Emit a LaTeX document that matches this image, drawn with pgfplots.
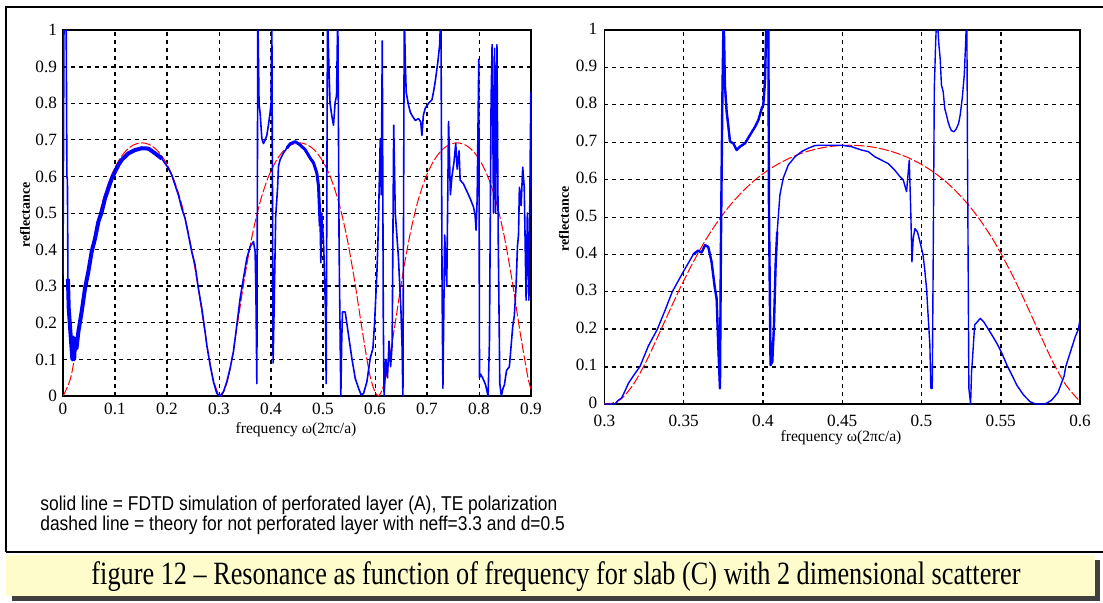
\documentclass[border=0pt]{standalone}
\usepackage{pgfplots}
\pgfplotsset{compat=1.18}
\usepackage{pgfplotstable}
\usepackage{fontspec}
\setmainfont{Liberation Serif}
\newfontfamily\sansf{Liberation Sans}

\pgfplotstableread{
x y
0.0000 0.33
0.0020 1.05
0.0060 1.05
0.0075 0.60
0.0085 0.59
0.0095 0.32
0.0110 0.24
0.0135 0.19
0.0160 0.14
0.0180 0.10
0.0200 0.16
0.0215 0.10
0.0230 0.15
0.0260 0.13
0.0295 0.175
0.0359 0.23
0.0423 0.294
0.0488 0.34
0.0552 0.395
0.0616 0.43
0.0680 0.476
0.0744 0.503
0.0808 0.54
0.0872 0.567
0.0937 0.594
0.1001 0.613
0.1065 0.631
0.1129 0.645
0.1257 0.663
0.1386 0.672
0.1514 0.677
0.1642 0.676
0.1771 0.663
0.1899 0.649
0.2027 0.622
0.2091 0.604
0.2156 0.576
0.2220 0.549
0.2284 0.513
0.2348 0.485
0.2412 0.440
0.2476 0.394
0.2540 0.358
0.2604 0.294
0.2669 0.240
0.2733 0.175
0.2765 0.139
0.2830 0.084
0.2893 0.039
0.2958 0.007
0.3022 0.0
0.3086 0.012
0.3150 0.039
0.3214 0.076
0.3278 0.121
0.3343 0.194
0.3407 0.267
0.3471 0.322
0.3535 0.376
0.3599 0.408
0.3663 0.422
0.3695 0.394
0.3710 0.285
0.3728 0.034
0.3747 1.05
0.3770 0.80
0.3792 0.771
0.3824 0.703
0.3856 0.690
0.3888 0.700
0.3920 0.712
0.3950 0.740
0.3984 0.776
0.4003 0.803
0.4016 1.05
0.4040 0.09
0.4060 0.24
0.4090 0.49
0.4125 0.565
0.4144 0.628
0.4176 0.646
0.4240 0.664
0.4304 0.677
0.4368 0.689
0.4465 0.695
0.4561 0.686
0.4657 0.673
0.4754 0.650
0.4818 0.637
0.4882 0.609
0.4914 0.573
0.4946 0.464
0.4959 0.364
0.4975 0.50
0.5011 0.421
0.5030 0.33
0.5048 0.23
0.5061 0.034
0.5087 1.05
0.5110 0.92
0.5135 0.80
0.5170 0.765
0.5202 0.740
0.5234 0.803
0.5260 0.82
0.5285 1.05
0.5310 0.40
0.5343 0.0
0.5360 0.15
0.5375 0.23
0.5427 0.23
0.5491 0.166
0.5555 0.103
0.5620 0.048
0.5684 0.021
0.5735 0.003
0.5780 0.007
0.5844 0.039
0.5908 0.103
0.5960 0.13
0.5992 0.20
0.6037 0.337
0.6056 0.419
0.6070 0.50
0.6101 0.703
0.6120 0.55
0.6140 0.97
0.6160 0.20
0.6175 0.0
0.6210 0.10
0.6240 0.05
0.6270 0.15
0.6300 0.08
0.6330 0.14
0.6360 0.74
0.6390 0.50
0.6420 0.44
0.6450 0.38
0.6470 0.32
0.6500 0.23
0.6520 0.14
0.6537 0.0
0.6563 1.05
0.6582 0.92
0.6600 0.83
0.6646 0.794
0.6678 0.776
0.6710 0.767
0.6774 0.753
0.6838 0.758
0.6880 0.749
0.6902 0.712
0.6930 0.767
0.6966 0.786
0.7030 0.800
0.7095 0.809
0.7127 0.832
0.7159 0.860
0.7210 0.914
0.7242 0.958
0.7268 1.05
0.7290 0.30
0.7306 0.021
0.7340 0.44
0.7380 0.30
0.7415 0.75
0.7450 0.55
0.7480 0.60
0.7520 0.64
0.7553 0.69
0.7580 0.62
0.7617 0.67
0.7637 0.59
0.7700 0.58
0.7765 0.56
0.7829 0.54
0.7893 0.517
0.7925 0.494
0.7944 0.453
0.7965 0.54
0.7996 0.92
0.8010 0.05
0.8030 0.06
0.8072 0.049
0.8124 0.032
0.8175 0.0
0.8201 0.15
0.8233 0.81
0.8252 0.96
0.8280 0.50
0.8300 0.95
0.8320 0.50
0.8345 0.96
0.8370 0.43
0.8400 0.035
0.8430 0.0
0.8460 0.02
0.8488 0.03
0.8530 0.07
0.8584 0.08
0.8649 0.19
0.8680 0.22
0.8713 0.30
0.8740 0.41
0.8760 0.44
0.8777 0.57
0.8810 0.52
0.8841 0.625
0.8870 0.57
0.8906 0.262
0.8930 0.50
0.8960 0.262
0.8997 0.83
}\leftblue

\pgfplotstableread{
x y
0.0000 0.0
0.0152 0.0521
0.0303 0.1766
0.0455 0.3164
0.0606 0.4369
0.0758 0.5289
0.0909 0.5951
0.1061 0.6406
0.1212 0.6701
0.1364 0.6866
0.1515 0.6919
0.1667 0.6866
0.1818 0.6701
0.1970 0.6406
0.2121 0.5951
0.2273 0.5289
0.2424 0.4369
0.2576 0.3164
0.2727 0.1766
0.2879 0.0521
0.3030 0.0
0.3182 0.0521
0.3333 0.1766
0.3485 0.3164
0.3636 0.4369
0.3788 0.5289
0.3939 0.5951
0.4091 0.6406
0.4242 0.6701
0.4394 0.6866
0.4545 0.6919
0.4697 0.6866
0.4848 0.6701
0.5000 0.6406
0.5152 0.5951
0.5303 0.5289
0.5455 0.4369
0.5606 0.3164
0.5758 0.1766
0.5909 0.0521
0.6061 0.0
0.6212 0.0521
0.6364 0.1766
0.6515 0.3164
0.6667 0.4369
0.6818 0.5289
0.6970 0.5951
0.7121 0.6406
0.7273 0.6701
0.7424 0.6866
0.7576 0.6919
0.7727 0.6866
0.7879 0.6701
0.8030 0.6406
0.8182 0.5951
0.8333 0.5289
0.8485 0.4369
0.8636 0.3164
0.8788 0.1766
0.8939 0.0521
0.9000 0.0195
}\leftred

\pgfplotstableread{
x y
0.3000 0.0
0.3067 0.0
0.3088 0.010
0.3109 0.0164
0.3130 0.035
0.3151 0.055
0.3190 0.08
0.3224 0.10
0.3277 0.155
0.3334 0.20
0.3382 0.25
0.3428 0.30
0.3498 0.354
0.3561 0.40
0.3590 0.41
0.3613 0.405
0.3635 0.425
0.3655 0.42
0.3676 0.38
0.3697 0.309
0.3708 0.282
0.3718 0.158
0.3729 0.042
0.3735 0.425
0.3744 0.817
0.3752 1.05
0.3760 0.853
0.3771 0.782
0.3781 0.746
0.3792 0.702
0.3813 0.697
0.3834 0.679
0.3855 0.688
0.3887 0.697
0.3918 0.719
0.3950 0.741
0.3971 0.759
0.3992 0.790
0.4002 0.799
0.4013 0.862
0.4023 1.05
0.4034 1.05
0.4038 0.523
0.4048 0.104
0.4059 0.113
0.4069 0.202
0.4080 0.372
0.4090 0.461
0.4107 0.559
0.4128 0.604
0.4160 0.639
0.4202 0.661
0.4244 0.675
0.4286 0.684
0.4328 0.691
0.4359 0.692
0.4454 0.692
0.4496 0.692
0.4559 0.688
0.4622 0.679
0.4664 0.675
0.4706 0.661
0.4748 0.652
0.4790 0.643
0.4832 0.625
0.4864 0.608
0.4885 0.599
0.4906 0.568
0.4923 0.652
0.4932 0.523
0.4940 0.380
0.4948 0.443
0.4959 0.469
0.4975 0.46
0.4996 0.424
0.5010 0.398
0.5020 0.362
0.5032 0.309
0.5043 0.229
0.5053 0.158
0.5059 0.042
0.5068 0.042
0.5074 0.389
0.5081 0.844
0.5089 0.96
0.5097 1.05
0.5110 0.96
0.5118 0.924
0.5126 0.853
0.5137 0.835
0.5147 0.790
0.5158 0.772
0.5168 0.754
0.5179 0.740
0.5189 0.731
0.5205 0.728
0.5220 0.736
0.5234 0.750
0.5244 0.772
0.5257 0.817
0.5270 0.880
0.5278 0.96
0.5286 1.05
0.5290 0.70
0.5299 0.042
0.5310 0.0
0.5316 0.087
0.5322 0.122
0.5330 0.176
0.5336 0.212
0.5353 0.22
0.5371 0.229
0.5392 0.22
0.5413 0.206
0.5445 0.184
0.5476 0.162
0.5508 0.135
0.5539 0.104
0.5571 0.077
0.5602 0.050
0.5644 0.024
0.5686 0.006
0.5720 0.0
0.5780 0.0
0.5820 0.01
0.5860 0.03
0.5900 0.075
0.5910 0.10
0.5940 0.14
0.5970 0.18
0.5990 0.20
0.6000 0.227
}\rightblue

\pgfplotstableread{
x y
0.3000 0.0022
0.3030 0.0
0.3106 0.0136
0.3182 0.0521
0.3258 0.1090
0.3333 0.1766
0.3409 0.2475
0.3485 0.3164
0.3561 0.3801
0.3636 0.4369
0.3712 0.4864
0.3788 0.5289
0.3864 0.5649
0.3939 0.5951
0.4015 0.6201
0.4091 0.6406
0.4167 0.6572
0.4242 0.6701
0.4318 0.6798
0.4394 0.6866
0.4470 0.6906
0.4545 0.6919
0.4621 0.6906
0.4697 0.6866
0.4773 0.6798
0.4848 0.6701
0.4924 0.6572
0.5000 0.6406
0.5076 0.6201
0.5152 0.5951
0.5227 0.5649
0.5303 0.5289
0.5379 0.4864
0.5455 0.4369
0.5530 0.3801
0.5606 0.3164
0.5682 0.2475
0.5758 0.1766
0.5833 0.1090
0.5909 0.0521
0.5985 0.0136
0.6000 0.0088
}\rightred

\pgfplotsset{
  refaxis/.style={
    scale only axis, ymin=0, ymax=1,
    axis line style={black, line width=0.9pt},
    grid=major,
    major grid style={black, line width=0.45pt, dash pattern=on 2pt off 2pt},
    major tick length=0pt,
    ytick={0,0.1,0.2,0.3,0.4,0.5,0.6,0.7,0.8,0.9,1},
    yticklabels={0,0.1,0.2,0.3,0.4,0.5,0.6,0.7,0.8,0.9,1},
    tick label style={font=\fontsize{8.6}{10}\selectfont},
    yticklabel style={xshift=0.5pt},
    extra tick style={major grid style={black, line width=1.1pt, dash pattern=on 2pt off 2pt}},
    extra x tick labels={}, extra y tick labels={},
  },
  blueline/.style={color={rgb,255:red,0;green,0;blue,255}, line width=0.8pt, line join=round},
  redline/.style={color={rgb,255:red,255;green,0;blue,0}, line width=0.5pt, dash pattern=on 5pt off 1.2pt, smooth},
}

\begin{document}
\begin{tikzpicture}
\path[use as bounding box] (0,0) rectangle (551.5pt,-301pt);
\fill[white] (0,0) rectangle (551.5pt,-301pt);
% panel frame
\draw[line width=0.8pt] (3pt,-276pt) -- (3pt,-3.5pt) -- (552pt,-3.5pt);
\draw[line width=0.8pt] (3pt,-276pt) -- (552pt,-276pt);
% caption band with shadow
\fill[black!75] (6pt,-280pt) rectangle (550pt,-300.5pt);
\fill[yellow!20] (3pt,-277.5pt) rectangle (547.5pt,-298pt);

\begin{axis}[refaxis, at={(31.5pt,-198pt)}, anchor=south west,
  width=234pt, height=183pt, xmin=0, xmax=0.9,
  xtick={0,0.1,0.2,0.3,0.4,0.5,0.6,0.7,0.8,0.9},
  xticklabels={0,0.1,0.2,0.3,0.4,0.5,0.6,0.7,0.8,0.9},
  extra x ticks={0.1,0.2,0.4,0.5,0.7}, extra y ticks={0.3,0.9}]
\addplot[redline] table {\leftred};
\addplot[blueline] table {\leftblue};
\addplot[blueline, line width=2pt, restrict x to domain=0.009:0.19] table {\leftblue};
\addplot[blueline, line width=1.5pt, restrict x to domain=0.43:0.495] table {\leftblue};
\end{axis}

\begin{axis}[refaxis, at={(302.2pt,-202pt)}, anchor=south west,
  width=237.8pt, height=187pt, xmin=0.3, xmax=0.6,
  xtick={0.3,0.35,0.4,0.45,0.5,0.55,0.6},
  xticklabels={0.3,0.35,0.4,0.45,0.5,0.55,0.6},
  xticklabel style={yshift=-1.8pt},
  yticklabel style={xshift=-0.5pt, yshift=0.8pt},
  extra x ticks={0.4,0.55}, extra y ticks={0.1,0.2}]
\addplot[redline] table {\rightred};
\addplot[blueline, line width=0.7pt] table {\rightblue};
\addplot[blueline, line width=1.2pt, restrict x to domain=0.355:0.41] table {\rightblue};
\end{axis}

\node[font=\fontsize{7.8}{9}\selectfont] at (148pt,-215pt) {frequency ω(2πc/a)};
\node[font=\fontsize{7.8}{9}\selectfont] at (420.5pt,-219pt) {frequency ω(2πc/a)};
\node[rotate=90, font=\bfseries\fontsize{7}{8}\selectfont] at (12.5pt,-107.5pt) {reflectance};
\node[rotate=90, font=\bfseries\fontsize{7}{8}\selectfont] at (282pt,-109.5pt) {reflectance};

\node[anchor=west, inner sep=0pt] at (20pt,-252.5pt) {\scalebox{1}[1.15]{\sansf\fontsize{8.7}{10}\selectfont solid line = FDTD simulation of perforated layer (A), TE polarization}};
\node[anchor=west, inner sep=0pt] at (20pt,-262.5pt) {\scalebox{1}[1.15]{\sansf\fontsize{8.7}{10}\selectfont dashed line = theory for not perforated layer with neff=3.3 and d=0.5}};

\node[inner sep=0pt] at (278pt,-288.5pt) {\scalebox{1.01}[1.25]{\fontsize{13}{15}\selectfont figure 12 – Resonance as function of frequency for slab (C) with 2 dimensional scatterer}};
\end{tikzpicture}
\end{document}
